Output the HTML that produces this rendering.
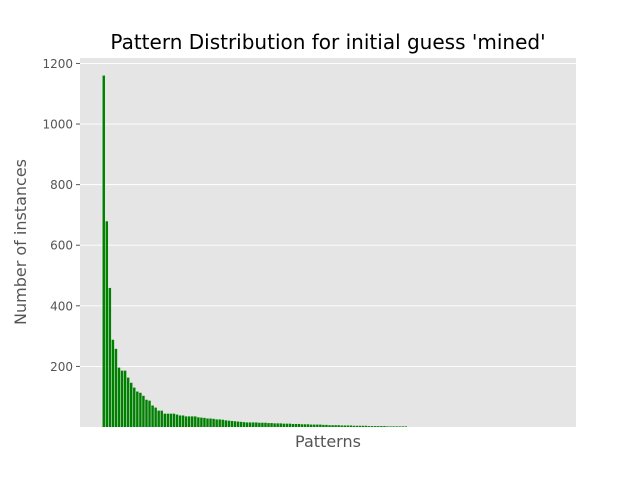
<!DOCTYPE html>
<html><head><meta charset="utf-8"><style>
html,body{margin:0;padding:0;background:#fff;}
svg{display:block;font-family:"DejaVu Sans","Liberation Sans",sans-serif;}
</style></head><body>
<svg id="chart" width="640" height="480" viewBox="0 0 640 480">
<rect x="0" y="0" width="640" height="480" fill="#fff"/>
<rect x="80" y="58" width="496" height="369" fill="#e5e5e5"/>
<g id="grid"></g>
<g id="bars"></g>
<g id="yticks"></g>
<text x="328" y="49" text-anchor="middle" font-size="20" fill="#000">Pattern Distribution for initial guess 'mined'</text>
<text x="328" y="447" text-anchor="middle" font-size="16" fill="#555">Patterns</text>
<text transform="translate(26,242) rotate(-90)" text-anchor="middle" font-size="16" fill="#555">Number of instances</text>
</svg>
<script>
const counts = [1160,679,459,288,258,196,186,186,163,146,130,117,113,103,90,87,71,64,54,54,44,44,44,44,41,38,38,35,35,35,35,32,
31,30,28,28,27,25,25,24,22,21,20,19,18,17,16,15,15,15,15,14,14,14,13,13,12,12,12,11,11,11,10,10,10,9,9,9,8,8,8,8,7,7,6,6,6,6,5,5,5,5,4,4,4,4,4,3,3,3,3,3,3,2,2,2,2,2,2,2,
0,0,0,0,0,0,0,0,0,0,0,0,0,0,0,0,0,0,0,0,0,0,0,0,0,0,0,0,0,0,0,0,0,0,0,0,0,0,0,0,0,0,0,0,0,0,0,0];
const yTicks = [200,400,600,800,1000,1200];
const yTickLabels = ["200","400","600","800","1000","1200"];
const NS="http://www.w3.org/2000/svg";
const px0=80, pw=496, py0=58, ph=369;
const N=counts.length;
const xmin=-0.4-0.05*(N-0.2), xmax=N-0.6+0.05*(N-0.2);
const ymin=0, ymax=1218;
const xs=v=>px0+(v-xmin)/(xmax-xmin)*pw;
const ys=v=>py0+ph-(v-ymin)/(ymax-ymin)*ph;
const grid=document.getElementById('grid'), yt=document.getElementById('yticks'), bars=document.getElementById('bars');
yTicks.forEach((t,i)=>{
  const y=ys(t);
  const l=document.createElementNS(NS,'line');
  l.setAttribute('x1',px0);l.setAttribute('x2',px0+pw);l.setAttribute('y1',y);l.setAttribute('y2',y);
  l.setAttribute('stroke','#fff');l.setAttribute('stroke-width','0.9');
  
  
  grid.appendChild(l);
  const tk=document.createElementNS(NS,'line');
  tk.setAttribute('x1',px0-4);tk.setAttribute('x2',px0);tk.setAttribute('y1',y);tk.setAttribute('y2',y);
  tk.setAttribute('stroke','#555');
  
  
  yt.appendChild(tk);
  const tx=document.createElementNS(NS,'text');
  tx.setAttribute('x',px0-7);tx.setAttribute('y',y+4.5);tx.setAttribute('text-anchor','end');
  tx.setAttribute('font-size','12');tx.setAttribute('fill','#555');
  tx.textContent=yTickLabels[i];
  
  
  yt.appendChild(tx);
});
counts.forEach((c,i)=>{
  if(c<=0) return;
  const r=document.createElementNS(NS,'rect');
  const x1=xs(i-0.4), x2=xs(i+0.4);
  r.setAttribute('x',x1);r.setAttribute('width',x2-x1);
  r.setAttribute('y',ys(c));r.setAttribute('height',ys(0)-ys(c));
  r.setAttribute('fill','#008000');
  
  
  bars.appendChild(r);
});
</script>
</body></html>
